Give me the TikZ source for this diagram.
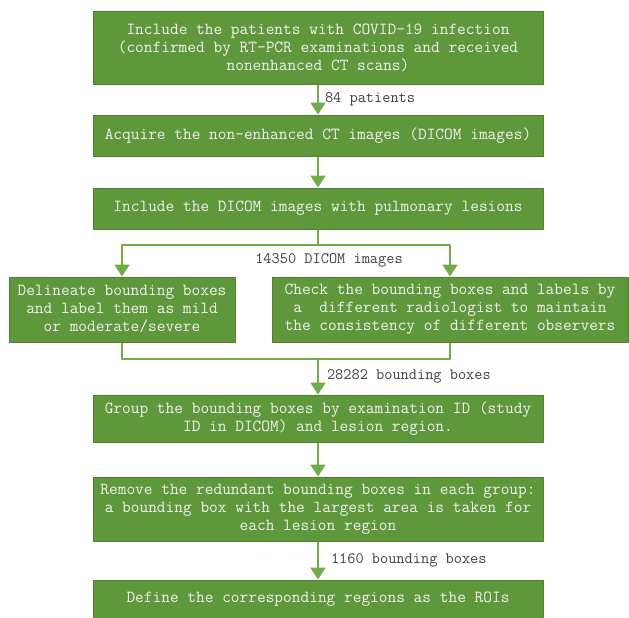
\documentclass[tikz,border=0pt]{standalone}
\usepackage{fontspec}
\usetikzlibrary{arrows.meta}
\definecolor{boxfill}{RGB}{95,151,59}
\definecolor{boxedge}{RGB}{84,130,53}
\definecolor{flowline}{RGB}{112,173,71}
\definecolor{boxtext}{RGB}{242,242,242}
\definecolor{labeltext}{RGB}{64,64,64}
\tikzset{
  stepbox/.style={draw=boxedge, line width=1pt, fill=boxfill, text=boxtext, align=center, inner sep=0pt,
    minimum width=450pt, font=\ttfamily\fontsize{16.9}{18}\selectfont},
  flow/.style={draw=flowline, line width=2pt},
  flowarrow/.style={flow, -{Triangle[width=15pt,length=12pt]}},
  countlabel/.style={text=labeltext, font=\ttfamily\fontsize{15.9}{16}\selectfont, inner sep=0pt}
}
\begin{document}
\begin{tikzpicture}[x=1pt, y=-1pt, line join=round]
	\useasboundingbox (0,0) rectangle (629,618);
	% boxes
	\node[stepbox, minimum height=72pt] (include) at (318,48) {Include the patients with COVID-19 infection\\(confirmed by RT-PCR examinations and received\\nonenhanced CT scans)};
	\node[stepbox, minimum height=41pt] (acquire) at (318,135.5) {Acquire the non-enhanced CT images (DICOM images)};
	\node[stepbox, minimum height=41pt] (lesions) at (318,208.5) {Include the DICOM images with pulmonary lesions};
	\node[stepbox, minimum height=65pt, minimum width=226pt] (delineate) at (122,309.5) {Delineate bounding boxes\\and label them as mild\\or moderate/severe};
	\node[stepbox, minimum height=65pt, minimum width=356pt] (check) at (450,309.5) {Check the bounding boxes and labels by\\a~ different radiologist to maintain\\the consistency of different observers};
	\node[stepbox, minimum height=47pt] (group) at (318,418.5) {Group the bounding boxes by examination ID (study\\ID in DICOM) and lesion region.};
	\node[stepbox, minimum height=64pt] (remove) at (318,509) {Remove the redundant bounding boxes in each group:\\a bounding box with the largest area is taken for\\each lesion region};
	\node[stepbox, minimum height=38pt] (roi) at (318,599) {Define the corresponding regions as the ROIs};
	% connectors
	\coordinate (split) at (318,245);
	\coordinate (merge) at (318,359);
	\draw[flowarrow] (include) -- node[right=6pt, countlabel]{84 patients} (acquire);
	\draw[flowarrow] (acquire) -- (lesions);
	\draw[flow] (lesions) -- (split);
	\draw[flowarrow] (split) -| (delineate.north);
	\draw[flowarrow] (split) -| (check.north);
	\node[countlabel] (images) at (329,260) {14350 DICOM images};
	\draw[flow] (delineate.south) |- (merge) -| (check.south);
	\draw[flowarrow] (merge) -- node[right=8pt, countlabel]{28282 bounding boxes} (group);
	\draw[flowarrow] (group) -- (remove);
	\draw[flowarrow] (remove) -- node[right=12pt, countlabel]{1160 bounding boxes} (roi);
\end{tikzpicture}
\end{document}
